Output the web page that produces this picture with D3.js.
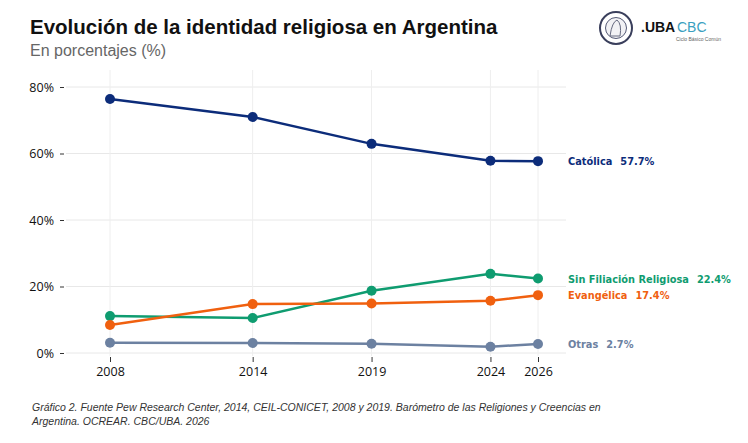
<!DOCTYPE html>
<html>
<head>
<meta charset="utf-8">
<script src="https://cdn.jsdelivr.net/npm/d3@7"></script>
<style>
  body { margin: 0; background: #fff; }
  svg { display: block; }
</style>
</head>
<body>
<script>
var years = [2008, 2014, 2019, 2024, 2026];
var catolica = [76.4, 71.0, 62.9, 57.8, 57.7];
var sinFiliacion = [11.1, 10.5, 18.7, 23.8, 22.4];
var evangelica = [8.4, 14.7, 14.9, 15.7, 17.4];
var otras = [3.1, 3.0, 2.8, 1.9, 2.7];
var seriesNames = ["Católica", "Sin Filiación Religiosa", "Evangélica", "Otras"];
var yTicks = [0, 20, 40, 60, 80];

var w = 748, h = 443;
var colors = ["#0c2c7a", "#0f9c70", "#f0600f", "#6c81a1"];
var series = [catolica, sinFiliacion, evangelica, otras];

var svg = d3.select("body").append("svg")
    .attr("width", w)
    .attr("height", h);

var x = d3.scaleLinear().domain([2008, 2026]).range([110, 538]);
var y = d3.scaleLinear().domain([0, 80]).range([353, 87]);

// grid
svg.append("g").selectAll("line.h")
    .data(yTicks).enter().append("line")
    .attr("x1", 66).attr("x2", 566)
    .attr("y1", function(d){ return y(d); })
    .attr("y2", function(d){ return y(d); })
    .attr("stroke", "#e8e8e8").attr("stroke-width", 1);

svg.append("g").selectAll("line.v")
    .data(years).enter().append("line")
    .attr("x1", function(d){ return x(d); })
    .attr("x2", function(d){ return x(d); })
    .attr("y1", 70).attr("y2", 356)
    .attr("stroke", "#eeeeee").attr("stroke-width", 1);

// axes
var yAxis = svg.append("g")
    .attr("transform", "translate(64,0)")
    .call(d3.axisLeft(y).tickValues(yTicks).tickSize(4).tickPadding(6)
        .tickFormat(function(d){ return d + "%"; }));
yAxis.select(".domain").remove();
yAxis.selectAll("text").attr("font-family", "Open Sans").attr("font-size", 12.5).attr("fill", "#111");
yAxis.selectAll("line").attr("stroke", "#333");

var xAxis = svg.append("g")
    .attr("transform", "translate(0,357)")
    .call(d3.axisBottom(x).tickValues(years).tickSize(5).tickPadding(5)
        .tickFormat(d3.format("d")));
xAxis.select(".domain").remove();
xAxis.selectAll("text").attr("font-family", "Open Sans").attr("font-size", 12.5).attr("fill", "#111");
xAxis.selectAll("line").attr("stroke", "#333");

// lines
var line = d3.line()
    .x(function(d, i){ return x(years[i]); })
    .y(function(d){ return y(d); });

series.forEach(function(s, k){
    var g = svg.append("g");
    g.append("path")
        .datum(s)
        .attr("d", line)
        .attr("fill", "none")
        .attr("stroke", colors[k])
        .attr("stroke-width", 2.5);
    g.selectAll("circle")
        .data(s).enter().append("circle")
        .attr("cx", function(d, i){ return x(years[i]); })
        .attr("cy", function(d){ return y(d); })
        .attr("r", 5)
        .attr("fill", colors[k]);
    var last = s[s.length - 1];
    var t = g.append("text")
        .attr("x", 568)
        .attr("y", y(last) + 4)
        .attr("font-family", "DejaVu Sans")
        .attr("font-weight", "bold")
        .attr("font-size", 9.8)
        .attr("fill", colors[k]);
    t.append("tspan").text(seriesNames[k]);
    t.append("tspan").attr("dx", 8).text(last.toFixed(1) + "%");
});

// titles
svg.append("text")
    .attr("x", 30).attr("y", 34)
    .attr("font-family", "Liberation Sans")
    .attr("font-weight", "bold")
    .attr("font-size", 20.5)
    .attr("fill", "#111")
    .text("Evolución de la identidad religiosa en Argentina");

svg.append("text")
    .attr("x", 30).attr("y", 56)
    .attr("font-family", "Liberation Sans")
    .attr("font-size", 16)
    .attr("fill", "#666")
    .text("En porcentajes (%)");

// caption
var cap = ["Gráfico 2. Fuente Pew Research Center, 2014, CEIL-CONICET, 2008 y 2019. Barómetro de las Religiones y Creencias en",
           "Argentina. OCREAR. CBC/UBA. 2026"];
svg.selectAll("text.cap")
    .data(cap).enter().append("text")
    .attr("x", 32)
    .attr("y", function(d, i){ return 411 + i * 14; })
    .attr("font-family", "Liberation Sans")
    .attr("font-style", "italic")
    .attr("font-size", 10.5)
    .attr("fill", "#333")
    .text(function(d){ return d; });

// logo
var logo = svg.append("g");
logo.append("circle").attr("cx", 616).attr("cy", 28).attr("r", 16)
    .attr("fill", "#fff").attr("stroke", "#3a3f5c").attr("stroke-width", 2);
logo.append("circle").attr("cx", 616).attr("cy", 28).attr("r", 10.5)
    .attr("fill", "#f2f2f5").attr("stroke", "#555a75").attr("stroke-width", 1);
logo.append("path").attr("d", "M610,36 Q612,22 617,20 Q622,24 620,36 Z")
    .attr("fill", "none").attr("stroke", "#666a80").attr("stroke-width", 1);
logo.append("text").attr("x", 641).attr("y", 32)
    .attr("font-family", "Liberation Sans").attr("font-weight", "bold")
    .attr("font-size", 14).attr("fill", "#111").text(".UBA");
logo.append("text").attr("x", 677).attr("y", 32)
    .attr("font-family", "Liberation Sans Narrow, Liberation Sans")
    .attr("font-size", 14).attr("fill", "#3a9fc0").text("CBC");
logo.append("text").attr("x", 721).attr("y", 41)
    .attr("text-anchor", "end")
    .attr("font-family", "Liberation Sans")
    .attr("font-size", 5).attr("fill", "#666").text("Ciclo Básico Común");
</script>
</body>
</html>
